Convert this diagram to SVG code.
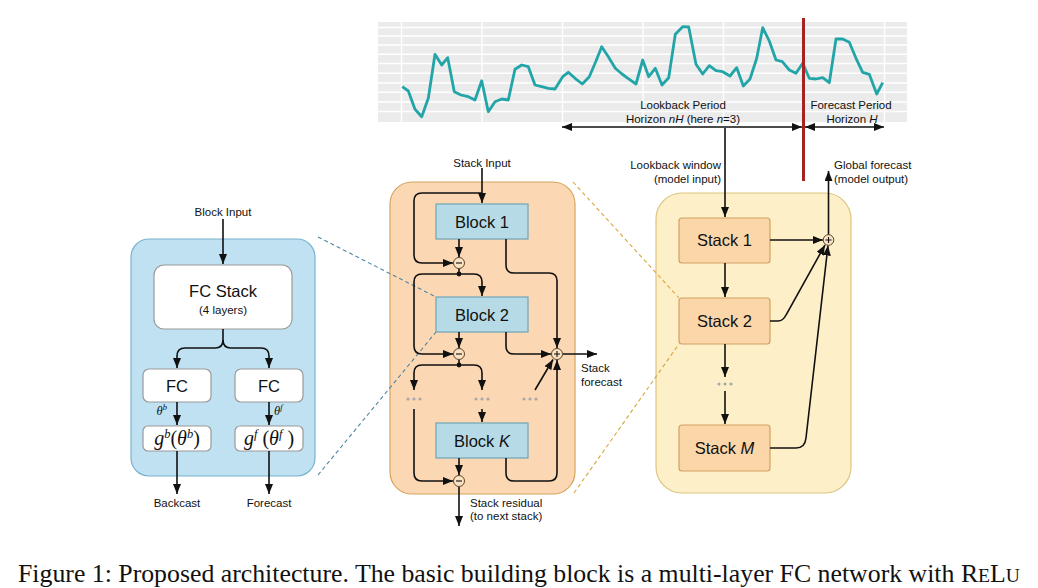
<svg xmlns="http://www.w3.org/2000/svg" width="1038" height="588" viewBox="0 0 1038 588">
<style>
.t{font-family:"Liberation Sans",Arial,sans-serif;font-size:11.5px;fill:#111}
.tb{font-family:"Liberation Sans",Arial,sans-serif;font-size:16.5px;fill:#111}
.m{font-family:"Liberation Serif","Times New Roman",serif;fill:#111}
.c{fill:none;stroke:#111;stroke-width:1.6}
.ca{fill:none;stroke:#111;stroke-width:1.6;marker-end:url(#ah)}
.blk{fill:#b7dbe6;stroke:#6fa3b6;stroke-width:1.2}
.stk{fill:#fbd6a9;stroke:#d2a062;stroke-width:1.2}
.fc{fill:#fff;stroke:#9a9a9a;stroke-width:1.2}
.op{fill:#fbe2c2;stroke:#5a4630;stroke-width:1}
.dot{fill:#a9a9a9}
.grid{stroke:#fff;stroke-width:1.4}
</style>
<defs>
<marker id="ah" markerUnits="userSpaceOnUse" markerWidth="10" markerHeight="8" refX="10" refY="4" orient="auto">
<path d="M0,0 L10,4 L0,8 z" fill="#111"/>
</marker>
<marker id="as" markerUnits="userSpaceOnUse" markerWidth="10" markerHeight="8" refX="0" refY="4" orient="auto">
<path d="M10,0 L0,4 L10,8 z" fill="#111"/>
</marker>
<g id="dots3"><circle cx="-6" cy="0" r="1.6" class="dot"/><circle cx="0" cy="0" r="1.6" class="dot"/><circle cx="6" cy="0" r="1.6" class="dot"/></g>
</defs>
<rect width="1038" height="588" fill="#fff"/>

<!-- time series chart -->
<g id="chart">
<rect x="378" y="22" width="529" height="100" fill="#ebebeb"/>
<g class="grid">
<line x1="378" y1="27.5" x2="907" y2="27.5"/>
<line x1="378" y1="36" x2="907" y2="36"/>
<line x1="378" y1="45" x2="907" y2="45"/>
<line x1="378" y1="54.3" x2="907" y2="54.3"/>
<line x1="378" y1="63.5" x2="907" y2="63.5"/>
<line x1="378" y1="73.3" x2="907" y2="73.3"/>
<line x1="378" y1="83" x2="907" y2="83"/>
<line x1="378" y1="92.3" x2="907" y2="92.3"/>
<line x1="378" y1="102" x2="907" y2="102"/>
<line x1="378" y1="111.5" x2="907" y2="111.5"/>
<line x1="401.5" y1="22" x2="401.5" y2="122"/>
<line x1="482" y1="22" x2="482" y2="122"/>
<line x1="562.5" y1="22" x2="562.5" y2="122"/>
<line x1="643" y1="22" x2="643" y2="122"/>
<line x1="723.5" y1="22" x2="723.5" y2="122"/>
<line x1="884.5" y1="22" x2="884.5" y2="122"/>
</g>
<polyline fill="none" stroke="#22a5a8" stroke-width="2.8" stroke-linejoin="round" points="402.3,86.7 408.3,91 415,109.3 421.7,116.7 428.3,98.3 435,54.3 441.7,65 447.7,57.7 454.3,91.7 461,95 468.3,96.7 475,100 481.7,80.7 488.3,111.7 495,101.7 501.7,99 508.3,100 515,69.3 521.7,65 528.3,66.7 535,85 541.7,86.7 548.3,88.3 555,89 562.7,76.7 568.3,72.3 575,78.3 582.3,84 589.3,76.7 595.7,61.7 601.7,46.7 608.3,56.7 615.3,68.3 622,74 629.3,79.3 636,84 642.7,60 648.7,76.7 655.3,68.3 662,85 668.7,77.7 675.3,34.3 682.7,26.7 688.7,27 696,64.3 702.7,74 709.3,65.7 716,70.7 722.7,71.7 730,76 736.7,67.7 743.3,86 750,79 756.7,58.3 762.7,27.7 769.3,41 776,60 782.3,61.7 789.3,70 796,73.3 802.7,63.3 809.3,78.3 816,79 822.7,77.7 829.3,82.7 836,39 842.7,39 849.3,42.3 856,58.3 862.7,72.3 869.3,74.3 876.7,94 882.7,82.7"/>
<text class="t" x="683" y="109" text-anchor="middle">Lookback Period</text>
<text class="t" x="683" y="123" text-anchor="middle">Horizon <tspan font-style="italic">nH</tspan> (here <tspan font-style="italic">n</tspan>=3)</text>
<text class="t" x="851" y="109" text-anchor="middle">Forecast Period</text>
<text class="t" x="852" y="123" text-anchor="middle">Horizon <tspan font-style="italic">H</tspan></text>
<line x1="803.5" y1="18" x2="803.5" y2="181" stroke="#a52422" stroke-width="3"/>
</g>

<!-- panels -->
<g id="block-panel">
<rect x="131" y="239" width="184" height="237" rx="18" fill="#bfe1f1" stroke="#79b2cf" stroke-width="1.2"/>
</g>
<g id="stack-panel">
<rect x="390" y="182" width="185" height="312" rx="22" fill="#fbd8b3" stroke="#d6a45e" stroke-width="1.2"/>
</g>
<g id="model-panel">
<rect x="656" y="193" width="195" height="300" rx="26" fill="#fdf0c9" stroke="#dcc47f" stroke-width="1.2"/>
</g>

<!-- block internals -->
<g id="fc-stack">
<rect class="fc" x="154" y="265" width="138" height="64" rx="10"/>
<text class="tb" x="223" y="297" text-anchor="middle">FC Stack</text>
<text class="t" x="223" y="314" text-anchor="middle">(4 layers)</text>
</g>
<g id="fc-b">
<rect class="fc" x="143" y="369" width="68" height="33" rx="6"/>
<text class="tb" x="177" y="392" text-anchor="middle">FC</text>
</g>
<g id="fc-f">
<rect class="fc" x="235" y="369" width="68" height="33" rx="6"/>
<text class="tb" x="269" y="392" text-anchor="middle">FC</text>
</g>
<g id="g-b">
<rect class="fc" x="143" y="426" width="68" height="25" rx="5"/>
<text class="m" x="177" y="445" text-anchor="middle" font-size="20"><tspan font-style="italic">g</tspan><tspan font-style="italic" font-size="12.5" dy="-7">b</tspan><tspan dy="7">(</tspan><tspan font-style="italic">θ</tspan><tspan font-style="italic" font-size="12.5" dy="-7">b</tspan><tspan dy="7">)</tspan></text>
</g>
<g id="g-f">
<rect class="fc" x="235" y="426" width="68" height="25" rx="5"/>
<text class="m" x="269" y="445" text-anchor="middle" font-size="20"><tspan font-style="italic">g</tspan><tspan font-style="italic" font-size="12.5" dy="-7">f</tspan><tspan dy="7"> (</tspan><tspan font-style="italic">θ</tspan><tspan font-style="italic" font-size="12.5" dy="-7">f</tspan><tspan dy="7"> )</tspan></text>
</g>

<!-- stack internals -->
<g id="block1"><rect class="blk" x="436" y="204" width="92" height="35"/><text class="tb" x="482" y="228" text-anchor="middle">Block 1</text></g>
<g id="block2"><rect class="blk" x="436" y="297" width="92" height="35"/><text class="tb" x="482" y="321" text-anchor="middle">Block 2</text></g>
<g id="blockK"><rect class="blk" x="436" y="423" width="92" height="35"/><text class="tb" x="482" y="447" text-anchor="middle">Block <tspan font-style="italic">K</tspan></text></g>

<!-- model internals -->
<g id="stack1"><rect class="stk" x="679" y="218" width="91" height="45" rx="3"/><text class="tb" x="724.5" y="246" text-anchor="middle">Stack 1</text></g>
<g id="stack2"><rect class="stk" x="679" y="298" width="91" height="46" rx="3"/><text class="tb" x="724.5" y="327" text-anchor="middle">Stack 2</text></g>
<g id="stackM"><rect class="stk" x="679" y="425" width="91" height="46" rx="3"/><text class="tb" x="724.5" y="454" text-anchor="middle">Stack <tspan font-style="italic">M</tspan></text></g>

<!-- connectors -->
<g id="connectors">
<line x1="318" y1="237" x2="436" y2="297" stroke="#4f86a3" stroke-width="1.1" stroke-dasharray="4,3"/>
<line x1="318" y1="475" x2="436" y2="332" stroke="#4f86a3" stroke-width="1.1" stroke-dasharray="4,3"/>
<line x1="573" y1="182" x2="679" y2="298" stroke="#d6a73c" stroke-width="1.1" stroke-dasharray="4,3"/>
<line x1="574" y1="493" x2="679" y2="344" stroke="#d6a73c" stroke-width="1.1" stroke-dasharray="4,3"/>

<line x1="562" y1="127" x2="802" y2="127" class="c" marker-start="url(#as)" marker-end="url(#ah)"/>
<line x1="805" y1="127" x2="884" y2="127" class="c" marker-start="url(#as)" marker-end="url(#ah)"/>

<path class="ca" d="M223,219 L223,264"/>
<path class="ca" d="M223,329 L223,340 Q223,348 215,348 L185,348 Q177,348 177,356 L177,368"/>
<path class="ca" d="M223,340 Q223,348 231,348 L261,348 Q269,348 269,356 L269,368"/>
<path class="ca" d="M177,402 L177,425"/>
<path class="ca" d="M269,402 L269,425"/>
<path class="ca" d="M177,451 L177,494"/>
<path class="ca" d="M269,451 L269,494"/>

<path class="ca" d="M482,168 L482,203"/>
<path class="ca" d="M482,193 L422,193 Q414,193 414,201 L414,255 Q414,263 422,263 L453,263"/>
<path class="ca" d="M459,239 L459,257"/>
<path class="c" d="M459,268.5 L459,274"/>
<circle cx="459" cy="274" r="2.4" fill="#111"/>
<path class="ca" d="M459,274 L474,274 Q482,274 482,282 L482,296"/>
<path class="ca" d="M459,274 L422,274 Q414,274 414,282 L414,346 Q414,354 422,354 L453,354"/>
<path class="ca" d="M506,239 L506,265 Q506,273 514,273 L549,273 Q557,273 557,281 L557,348"/>
<path class="ca" d="M459,332 L459,348"/>
<path class="ca" d="M506,332 L506,346 Q506,354 514,354 L551,354"/>
<path class="ca" d="M563,354 L597,354"/>
<path class="c" d="M459,359.5 L459,365"/>
<circle cx="459" cy="365" r="2.4" fill="#111"/>
<path class="ca" d="M459,365 L474,365 Q482,365 482,373 L482,390"/>
<path class="ca" d="M459,365 L422,365 Q414,365 414,373 L414,390"/>
<path class="ca" d="M414,409 L414,473 Q414,481 422,481 L453,481"/>
<path class="ca" d="M482,409 L482,422"/>
<path class="ca" d="M535,390 L553,359.5"/>
<path class="ca" d="M459,458 L459,475"/>
<path class="ca" d="M506,458 L506,473 Q506,481 514,481 L549,481 Q557,481 557,473 L557,360"/>
<path class="ca" d="M459,487 L459,526"/>

<path class="ca" d="M725,128 L725,217"/>
<path class="ca" d="M725,263 L725,297"/>
<path class="ca" d="M725,344 L725,377"/>
<path class="ca" d="M725,391 L725,424"/>
<path class="ca" d="M770,240 L823,240"/>
<path class="ca" d="M770,321 L778,321 Q783,321 786,315 L825,245"/>
<path class="ca" d="M770,448 L796,448 Q805,448 806,438 L828,245.5"/>
<path class="ca" d="M828.5,235 L828.5,171"/>
</g>

<!-- operators -->
<g id="op-minus1"><circle class="op" cx="459" cy="263" r="5.5"/><line x1="456" y1="263" x2="462" y2="263" stroke="#111" stroke-width="1.1"/></g>
<g id="op-minus2"><circle class="op" cx="459" cy="354" r="5.5"/><line x1="456" y1="354" x2="462" y2="354" stroke="#111" stroke-width="1.1"/></g>
<g id="op-minus3"><circle class="op" cx="459" cy="481" r="5.5"/><line x1="456" y1="481" x2="462" y2="481" stroke="#111" stroke-width="1.1"/></g>
<g id="op-plus-stack"><circle class="op" cx="557" cy="354" r="5.5"/><path d="M554,354 H560 M557,351 V357" stroke="#111" stroke-width="1.1"/></g>
<g id="op-plus-global"><circle class="op" cx="828.5" cy="240" r="5.3" fill="#fdf0c9"/><path d="M825.5,240 H831.5 M828.5,237 V243" stroke="#111" stroke-width="1.1"/></g>

<use href="#dots3" x="414" y="399"/>
<use href="#dots3" x="482" y="399"/>
<use href="#dots3" x="530" y="399"/>
<use href="#dots3" x="725" y="384"/>

<g id="labels">
<text class="t" x="223" y="215.5" text-anchor="middle">Block Input</text>
<text class="m" x="167" y="415" text-anchor="end" font-size="12.5" font-style="italic">θ<tspan font-size="8.5" dy="-5">b</tspan></text>
<text class="m" x="274" y="415" font-size="12.5" font-style="italic">θ<tspan font-size="8.5" dy="-5">f</tspan></text>
<text class="t" x="177" y="507" text-anchor="middle">Backcast</text>
<text class="t" x="269" y="507" text-anchor="middle">Forecast</text>
<text class="t" x="482" y="167" text-anchor="middle">Stack Input</text>
<text class="t" x="581" y="372">Stack</text>
<text class="t" x="581" y="386">forecast</text>
<text class="t" x="470" y="507">Stack residual</text>
<text class="t" x="470" y="520">(to next stack)</text>
<text class="t" x="721" y="169" text-anchor="end">Lookback window</text>
<text class="t" x="721" y="183" text-anchor="end">(model input)</text>
<text class="t" x="834" y="169">Global forecast</text>
<text class="t" x="834" y="183">(model output)</text>
</g>

<text x="18" y="582" font-family="'Liberation Serif','Times New Roman',serif" font-size="25" fill="#111" textLength="1002" lengthAdjust="spacingAndGlyphs">Figure 1: Proposed architecture. The basic building block is a multi-layer FC network with R<tspan font-size="19">E</tspan>L<tspan font-size="19">U</tspan></text>
</svg>
